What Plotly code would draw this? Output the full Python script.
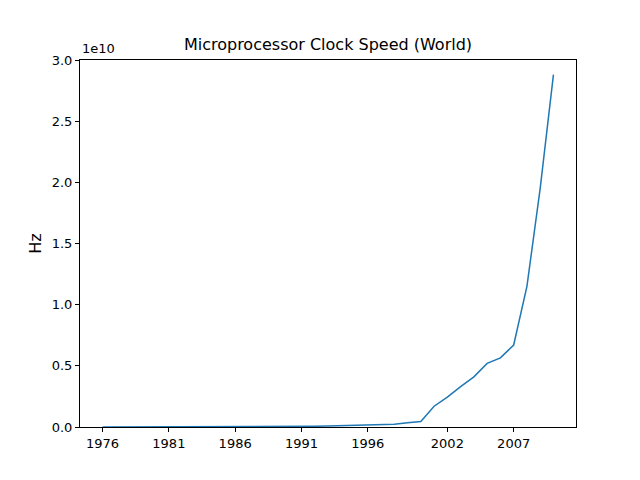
import plotly.graph_objects as go

years = list(range(1976, 2011))
clock_1e10 = [0.0002, 0.0002, 0.0003, 0.0003, 0.0004, 0.0005, 0.0006, 0.0008, 0.001, 0.0012,
              0.0015, 0.002, 0.0025, 0.003, 0.004, 0.005, 0.006, 0.008, 0.01, 0.013,
              0.016, 0.02, 0.022, 0.035, 0.045, 0.17, 0.245, 0.33, 0.41, 0.52,
              0.565, 0.67, 1.15, 1.95, 2.88]
clock_hz = [v * 1e10 for v in clock_1e10]
x_ticks = [1976, 1981, 1986, 1991, 1996, 2002, 2007]
y_ticks = [0.0, 0.5, 1.0, 1.5, 2.0, 2.5, 3.0]

fig = go.Figure(go.Scatter(x=years, y=clock_hz, mode="lines",
                           line=dict(color="#1f77b4", width=1.5)))

fig.update_layout(
    width=640, height=480,
    margin=dict(l=72, r=72, t=52, b=61),
    paper_bgcolor="white", plot_bgcolor="white",
    font=dict(family="DejaVu Sans", size=13, color="black"),
    title=dict(text="Microprocessor Clock Speed (World)", x=0.5, xanchor="center",
               y=1 - 36 / 480, yanchor="middle", font=dict(size=16)),
    showlegend=False,
)
axis_style = dict(showline=True, linecolor="black", linewidth=1, mirror=True,
                  ticks="outside", ticklen=4, tickcolor="black", showgrid=False, zeroline=False)
fig.update_xaxes(range=[1974.3, 2011.7], tickvals=x_ticks,
                 ticktext=[str(t) for t in x_ticks], **axis_style)
fig.update_yaxes(range=[0, 3.0e10], tickvals=[v * 1e10 for v in y_ticks],
                 ticktext=[f"{v:.1f}" for v in y_ticks], title_text="Hz",
                 title_standoff=6, **axis_style)
fig.add_annotation(text="1e10", xref="paper", yref="paper", x=0, y=1,
                   xanchor="left", yanchor="bottom", showarrow=False, font=dict(size=13), yshift=2)
fig.write_html("out.html")
